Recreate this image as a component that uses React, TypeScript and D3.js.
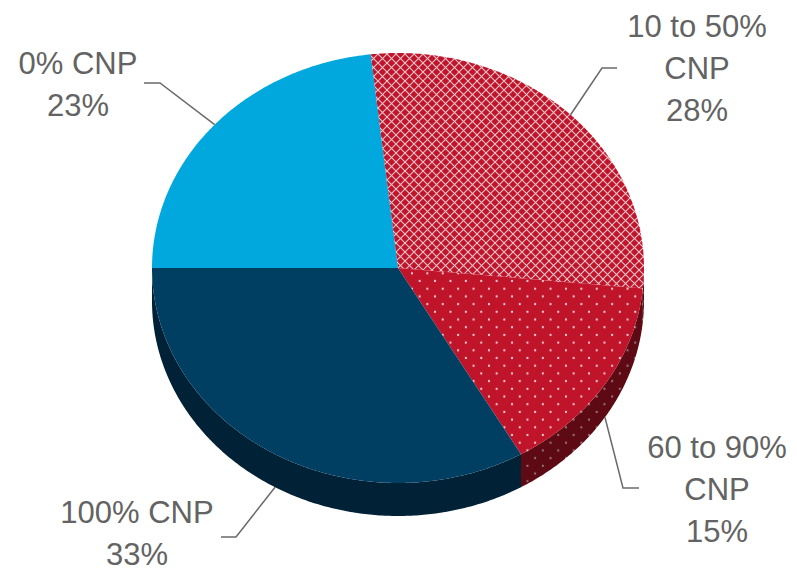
import { useEffect } from "react";
import * as d3 from "d3";

// slice data, clockwise starting from 9 o'clock
const categories = ["0% CNP", "10 to 50% CNP", "60 to 90% CNP", "100% CNP"];
const shares = [23, 28, 15, 33];
const labelLines = [
    ["0% CNP", "23%"],
    ["10 to 50%", "CNP", "28%"],
    ["60 to 90%", "CNP", "15%"],
    ["100% CNP", "33%"],
];

// styling per slice
const topFills = ["#00A8DE", "url(#hatchTop)", "url(#dotTop)", "#003F62"];
const sideFills = ["#007BA6", "url(#hatchSide)", "url(#dotSide)", "#002136"];

// label layout: text center x, first baseline, elbow and end of leader line
const labelLayout = [
    { x: 78, y: 74, elbow: [160, 83], end: [144, 83] },
    { x: 697, y: 37, elbow: [602, 68], end: [617, 68] },
    { x: 717, y: 458, elbow: [623, 488], end: [639, 488] },
    { x: 137, y: 523, elbow: [236, 537], end: [221, 537] },
];

const W = 797;
const H = 573;
const cx = 398;
const cy = 268;
const rx = 246;
const ry = 215;
const depth = 33;
const lineGap = 42;

const App = () => {
    useEffect(() => {
        document.body.style.margin = "0";
        document.body.style.overflow = "hidden";
    }, []);

    const pie = d3.pie<number>()
        .sort(null)
        .startAngle(-Math.PI / 2)
        .endAngle((3 * Math.PI) / 2)
        .value(d => d);
    const arcs = pie(shares);

    const pt = (a: number, dy = 0): [number, number] => [
        cx + rx * Math.sin(a),
        cy - ry * Math.cos(a) + dy,
    ];

    const arcPoints = (a0: number, a1: number, dy = 0) => {
        const n = Math.max(2, Math.ceil(Math.abs(a1 - a0) / 0.01));
        return d3.range(n + 1).map(i => pt(a0 + ((a1 - a0) * i) / n, dy));
    };

    const line = d3.line();

    const topPath = (a0: number, a1: number) =>
        line([[cx, cy], ...arcPoints(a0, a1)]) + "Z";

    const sidePath = (a0: number, a1: number) => {
        const s0 = Math.max(a0, Math.PI / 2);
        const s1 = Math.min(a1, (3 * Math.PI) / 2);
        if (s1 <= s0) return null;
        return line([...arcPoints(s0, s1), ...arcPoints(s1, s0, depth)]) + "Z";
    };

    const textFont = "'Liberation Sans', Arial, sans-serif";

    return (
        <svg width={W} height={H} style={{ display: "block", background: "#fff" }}>
            <defs>
                <pattern id="hatchTop" patternUnits="userSpaceOnUse" width="9" height="9">
                    <rect width="9" height="9" fill="#C0142A" />
                    <path d="M0,0 L9,9 M9,0 L0,9" stroke="#F2C4CA" strokeWidth="1.1" />
                </pattern>
                <pattern id="hatchSide" patternUnits="userSpaceOnUse" width="9" height="9">
                    <rect width="9" height="9" fill="#5E0A14" />
                    <path d="M0,0 L9,9 M9,0 L0,9" stroke="#8A4A52" strokeWidth="1.1" />
                </pattern>
                <pattern id="dotTop" patternUnits="userSpaceOnUse" width="15.4" height="15.4">
                    <rect width="15.4" height="15.4" fill="#C0142A" />
                    <circle cx="3.85" cy="3.85" r="1.1" fill="#F4D6DA" />
                    <circle cx="11.55" cy="11.55" r="1.1" fill="#F4D6DA" />
                </pattern>
                <pattern id="dotSide" patternUnits="userSpaceOnUse" width="15.4" height="15.4">
                    <rect width="15.4" height="15.4" fill="#5E0A14" />
                    <circle cx="3.85" cy="3.85" r="1.1" fill="#9A7A7E" />
                    <circle cx="11.55" cy="11.55" r="1.1" fill="#9A7A7E" />
                </pattern>
            </defs>

            {/* sides of the disc */}
            <g>
                {arcs.map((a, i) => {
                    const d = sidePath(a.startAngle, a.endAngle);
                    return d ? <path key={"s" + i} d={d} fill={sideFills[i]} /> : null;
                })}
            </g>

            {/* top faces */}
            <g>
                {arcs.map((a, i) => (
                    <path key={"t" + i} d={topPath(a.startAngle, a.endAngle)} fill={topFills[i]} />
                ))}
            </g>

            {/* leader lines */}
            <g fill="none" stroke="#6A6A6A" strokeWidth="1.5">
                {arcs.map((a, i) => {
                    const mid = (a.startAngle + a.endAngle) / 2;
                    const lower = Math.cos(mid) < 0;
                    const anchor = pt(mid, lower ? depth : 0);
                    const lay = labelLayout[i];
                    return (
                        <path
                            key={"l" + i}
                            d={line([anchor, lay.elbow as [number, number], lay.end as [number, number]]) || ""}
                        />
                    );
                })}
            </g>

            {/* labels */}
            <g fontFamily={textFont} fontSize="31" fill="#636363" textAnchor="middle">
                {categories.map((c, i) => (
                    <text key={c} x={labelLayout[i].x} y={labelLayout[i].y}>
                        {labelLines[i].map((t, j) => (
                            <tspan key={j} x={labelLayout[i].x} y={labelLayout[i].y + j * lineGap}>
                                {t}
                            </tspan>
                        ))}
                    </text>
                ))}
            </g>
        </svg>
    );
};

export default App;
